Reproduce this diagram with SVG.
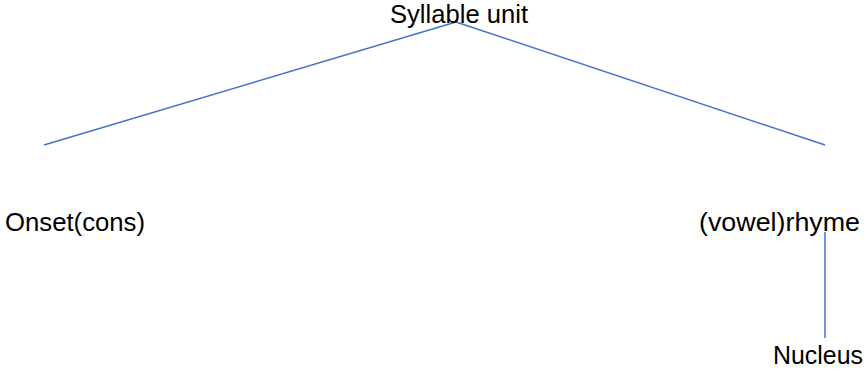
<svg xmlns="http://www.w3.org/2000/svg" width="868" height="371" viewBox="0 0 868 371">
<style>
text{font-family:"Liberation Sans",Arial,sans-serif;font-size:25.5px;fill:#000}
.c{stroke:#4472C4;stroke-width:1.5;fill:none}
</style>
<rect width="868" height="371" fill="#fff"/>
<g id="connectors">
<line class="c" x1="456" y1="22" x2="44" y2="145"/>
<line class="c" x1="456" y1="22" x2="825" y2="145"/>
<line class="c" x1="825" y1="232" x2="825" y2="338"/>
</g>
<g id="syllable"><text x="390" y="23" textLength="138" lengthAdjust="spacingAndGlyphs">Syllable unit</text></g>
<g id="onset"><text x="5" y="231" textLength="140" lengthAdjust="spacingAndGlyphs">Onset(cons)</text></g>
<g id="rhyme"><text x="699" y="231" textLength="161" lengthAdjust="spacingAndGlyphs">(vowel)rhyme</text></g>
<g id="nucleus"><text x="773" y="364" textLength="90" lengthAdjust="spacingAndGlyphs">Nucleus</text></g>
</svg>
